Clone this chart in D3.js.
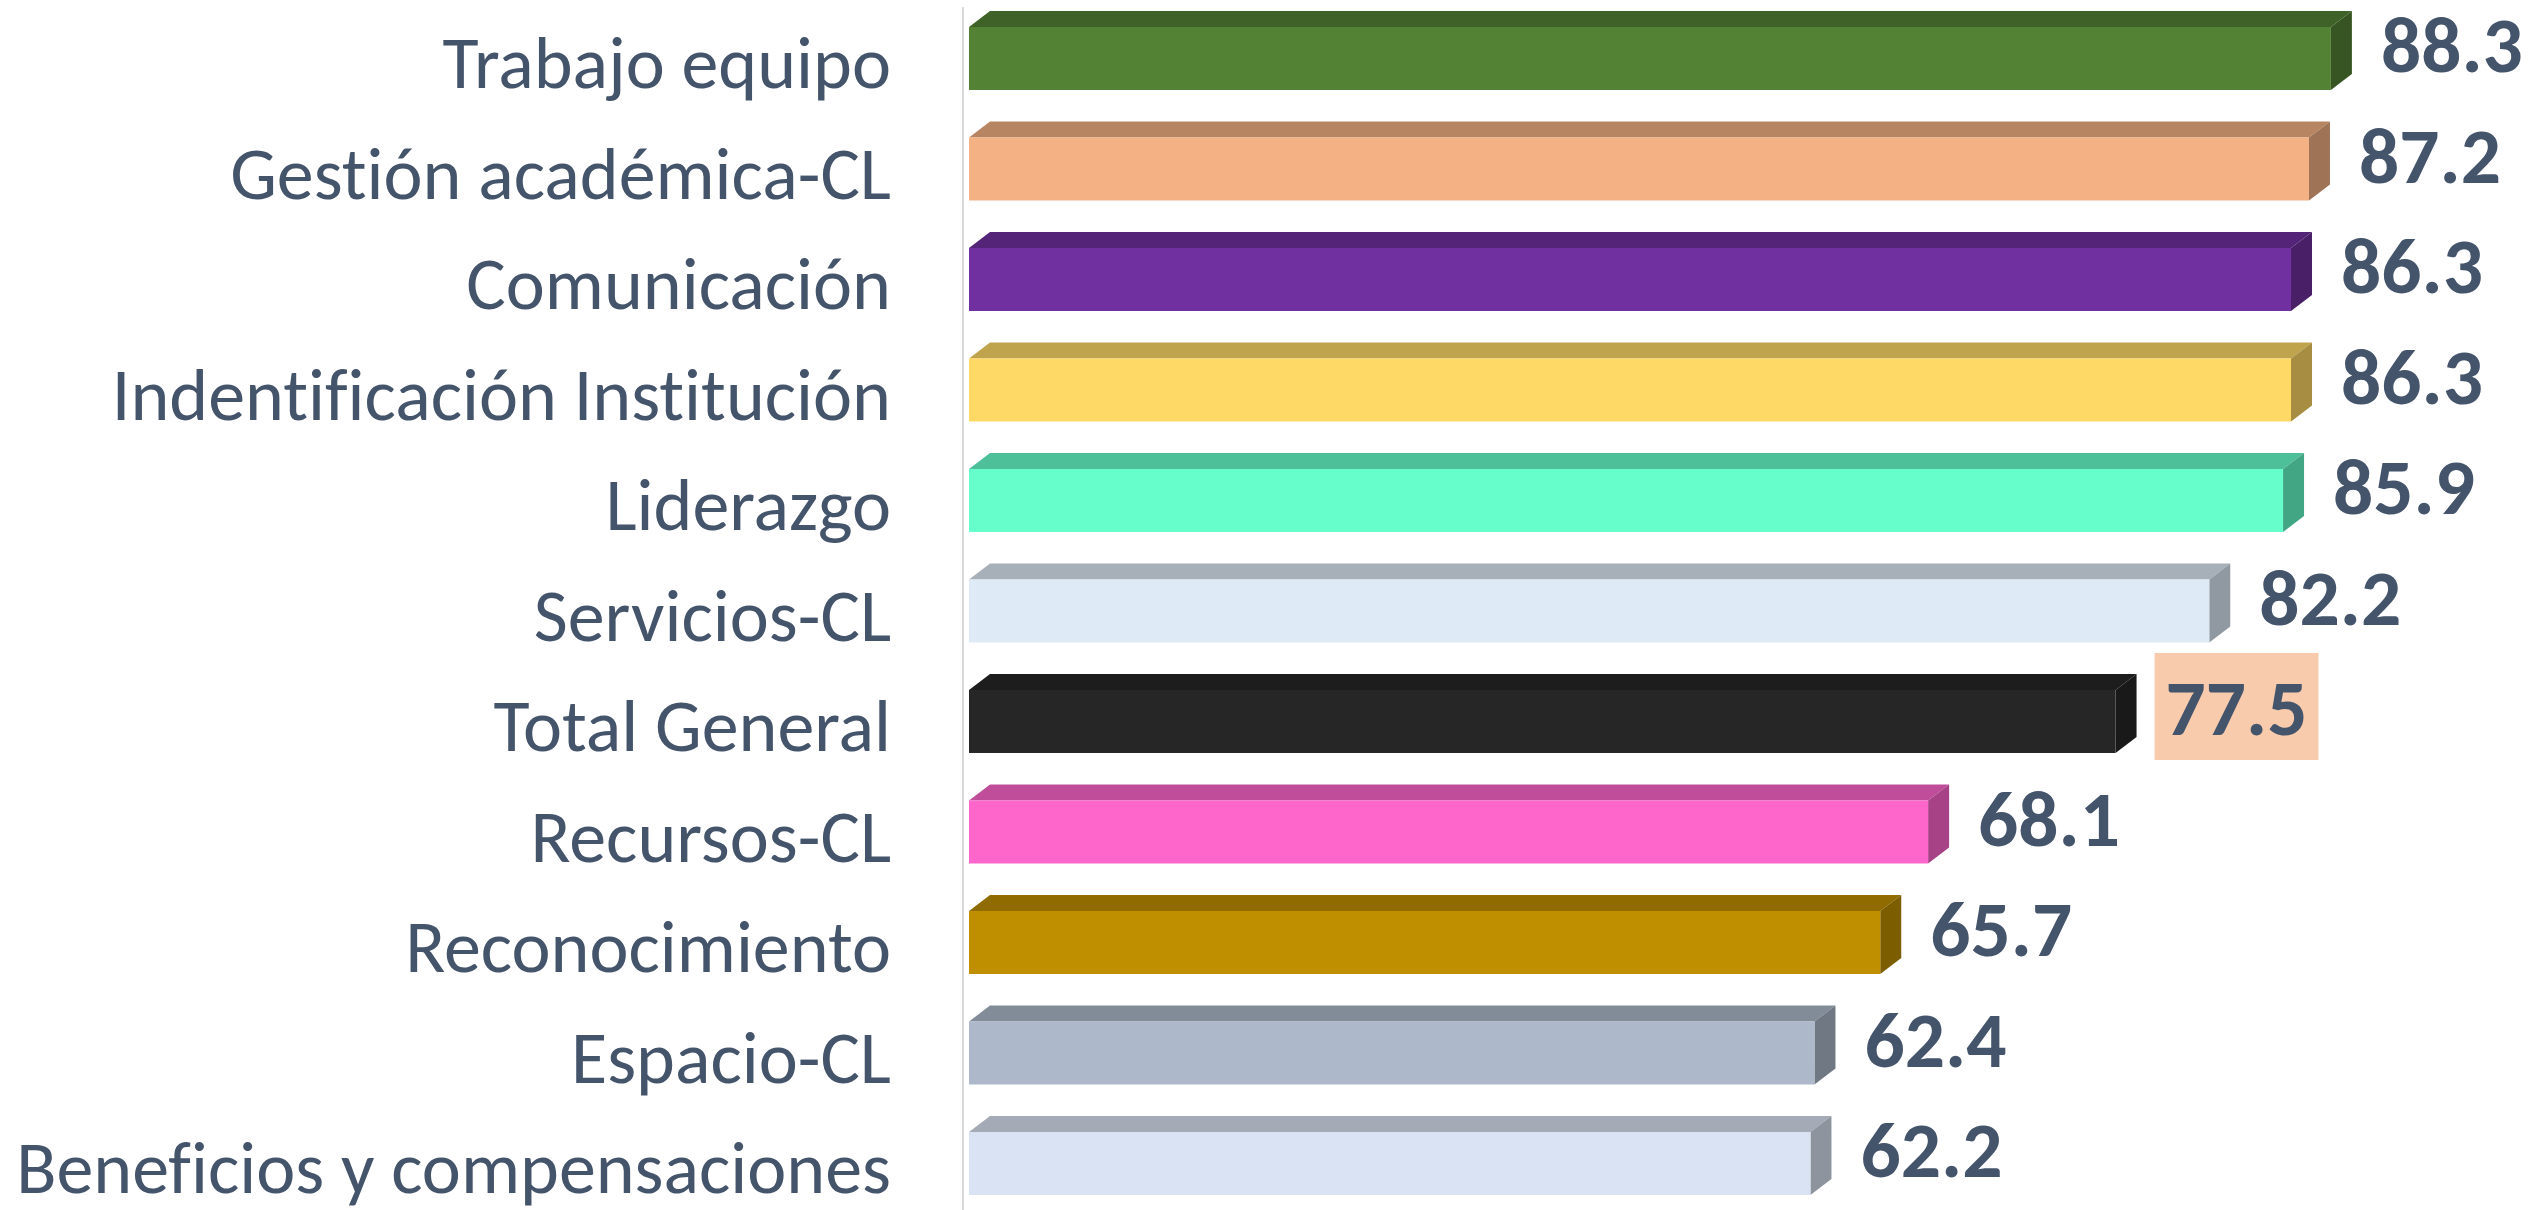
<!DOCTYPE html>
<html>
<head>
<meta charset="utf-8">
<script src="https://cdn.jsdelivr.net/npm/d3@7"></script>
<style>
  html, body { margin: 0; padding: 0; background: #ffffff; }
  svg { display: block; }
  text { font-variant-ligatures: none; font-feature-settings: "liga" 0; }
</style>
</head>
<body>
<svg id="chart" width="2539" height="1210"></svg>
<script>
// ---- data ----
const categories = [
  "Trabajo equipo",
  "Gestión académica-CL",
  "Comunicación",
  "Indentificación Institución",
  "Liderazgo",
  "Servicios-CL",
  "Total General",
  "Recursos-CL",
  "Reconocimiento",
  "Espacio-CL",
  "Beneficios y compensaciones"
];
const values = [88.3, 87.2, 86.3, 86.3, 85.9, 82.2, 77.5, 68.1, 65.7, 62.4, 62.2];
const valueLabels = ["88.3", "87.2", "86.3", "86.3", "85.9", "82.2", "77.5", "68.1", "65.7", "62.4", "62.2"];
const highlighted = ["Total General"];

// ---- styles ----
const barColors = ["#548235", "#F4B183", "#7030A0", "#FFD966", "#66FFCC", "#DEEBF7",
                   "#262626", "#FF66CC", "#BF8F00", "#ADB9CA", "#DAE3F3"];
const textColor = "#44546A";
const highlightFill = "#F8CBAD";
const fontFamily = "Carlito, Calibri, Lato, 'Open Sans', sans-serif";

const W = 2539, H = 1210;
const svg = d3.select("#chart");

// layout
const axisX = 963;
const barLeft = 969;
const depthX = 21, depthY = 16;
const step = 110.5;
const firstTop = 27;
const pad = 0.43;

const x = d3.scaleLinear().domain([20, 90]).range([barLeft, barLeft + 70 * 19.94]);
const y = d3.scaleBand()
  .domain(categories)
  .range([firstTop - pad * step, firstTop - pad * step + step * (categories.length - pad + 2 * pad)])
  .paddingInner(pad)
  .paddingOuter(pad);

function shade(c, k) {
  const r = d3.rgb(c);
  return d3.rgb(r.r * k, r.g * k, r.b * k).formatHex();
}

// axis line
svg.append("line")
  .attr("x1", axisX).attr("x2", axisX)
  .attr("y1", 7).attr("y2", H)
  .attr("stroke", "#d9d9d9").attr("stroke-width", 2);

const data = categories.map((c, i) => ({ cat: c, v: values[i], label: valueLabels[i], color: barColors[i] }));

const g = svg.append("g");
const bars = g.selectAll("g.bar").data(data).enter().append("g").attr("class", "bar");

// top face
bars.append("path")
  .attr("fill", d => shade(d.color, 0.75))
  .attr("d", d => {
    const t = y(d.cat), x0 = x.range()[0], x1 = x(d.v);
    return `M${x0},${t} L${x0 + depthX},${t - depthY} L${x1 + depthX},${t - depthY} L${x1},${t} Z`;
  });
// side face
bars.append("path")
  .attr("fill", d => shade(d.color, 0.65))
  .attr("d", d => {
    const t = y(d.cat), b = t + y.bandwidth(), x1 = x(d.v);
    return `M${x1},${t} L${x1 + depthX},${t - depthY} L${x1 + depthX},${b - depthY} L${x1},${b} Z`;
  });
// front face
bars.append("rect")
  .attr("x", x.range()[0])
  .attr("y", d => y(d.cat))
  .attr("width", d => x(d.v) - x.range()[0])
  .attr("height", y.bandwidth())
  .attr("fill", d => d.color);

// category labels
const labels = g.selectAll("text.cat").data(data).enter().append("text")
  .attr("class", "cat")
  .attr("x", 891)
  .attr("y", d => y(d.cat) + 61)
  .attr("text-anchor", "end")
  .attr("fill", textColor)
  .attr("font-family", fontFamily)
  .attr("font-size", 70)
  .text(d => d.cat);

// fit label size to reference width of the longest label
{
  const longest = labels.filter(d => d.cat === "Beneficios y compensaciones").node();
  const w = longest.getComputedTextLength();
  const fs = 70 * 875 / w;
  labels.attr("font-size", fs);
}

// highlight boxes (drawn before value text)
const hlG = g.append("g");

// value labels
const vals = g.selectAll("text.val").data(data).enter().append("text")
  .attr("class", "val")
  .attr("x", d => x(d.v) + depthX + 29)
  .attr("y", d => y(d.cat) + 45)
  .attr("fill", textColor)
  .attr("font-family", fontFamily)
  .attr("font-weight", "bold")
  .attr("font-size", 72)
  .text(d => d.label);
{
  const n = vals.filter(d => d.label === "88.3").node();
  const w = n.getComputedTextLength();
  vals.attr("font-size", 72 * 142 / w);
}

vals.each(function(d) {
  if (highlighted.indexOf(d.cat) < 0) return;
  const tw = this.getComputedTextLength();
  const tx = x(d.v) + depthX + 29;
  const t = y(d.cat);
  hlG.append("rect")
    .attr("x", tx - 11)
    .attr("y", t - 37)
    .attr("width", tw + 22)
    .attr("height", 107)
    .attr("fill", highlightFill);
});
</script>
</body>
</html>
